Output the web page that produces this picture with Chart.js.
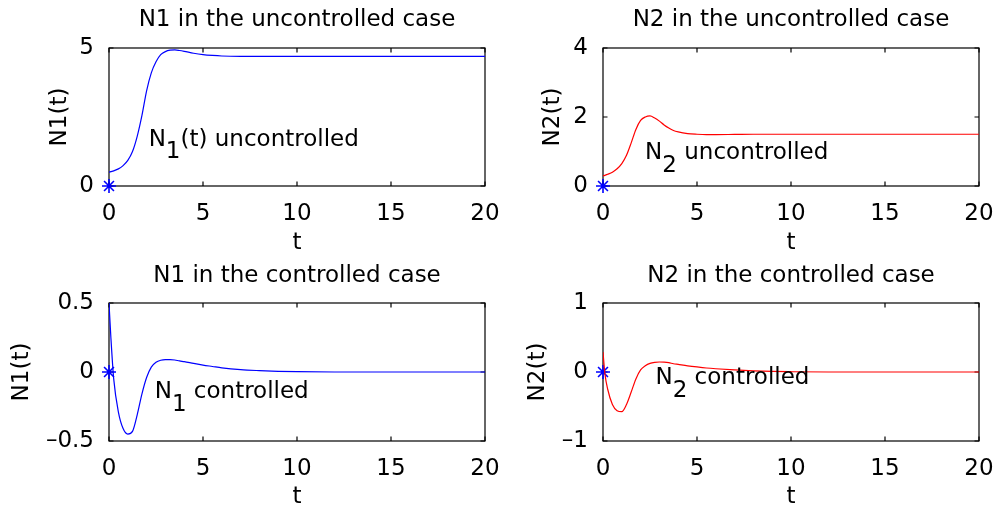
<!DOCTYPE html>
<html>
<head>
<meta charset="utf-8">
<script src="https://cdn.jsdelivr.net/npm/chart.js@4"></script>
<style>
  body { margin: 0; background: #fff; width: 996px; height: 509px; overflow: hidden; position: relative; }
  canvas { position: absolute; }
</style>
</head>
<body>
<canvas id="c1" width="520" height="255" style="left:0;top:0"></canvas>
<canvas id="c2" width="500" height="255" style="left:496px;top:0"></canvas>
<canvas id="c3" width="520" height="254" style="left:0;top:255px"></canvas>
<canvas id="c4" width="500" height="254" style="left:496px;top:255px"></canvas>
<script>
// time grid shared by all four curves
const tValues = [0, 0.1, 0.25, 0.5, 0.75, 1, 1.25, 1.5, 1.75, 2, 2.25, 2.5, 2.75, 3, 3.25, 3.5, 3.75, 4, 4.5, 5, 5.5, 6, 7, 8, 9, 10, 12, 14, 16, 18, 20];

const n1Uncontrolled = [0.5, 0.52, 0.55, 0.62, 0.74, 0.93, 1.25, 1.8, 2.55, 3.45, 4.1, 4.5, 4.76, 4.87, 4.92, 4.93, 4.91, 4.88, 4.81, 4.76, 4.73, 4.71, 4.7, 4.7, 4.7, 4.7, 4.7, 4.7, 4.7, 4.7, 4.7];
const n2Uncontrolled = [0.3, 0.31, 0.34, 0.4, 0.5, 0.65, 0.89, 1.25, 1.64, 1.9, 2.0, 2.03, 1.97, 1.88, 1.77, 1.68, 1.61, 1.57, 1.52, 1.5, 1.49, 1.49, 1.495, 1.5, 1.5, 1.5, 1.5, 1.5, 1.5, 1.5, 1.5];
const n1Controlled = [0.5, 0.25, -0.05, -0.29, -0.41, -0.45, -0.43, -0.31, -0.16, -0.04, 0.035, 0.07, 0.085, 0.09, 0.09, 0.087, 0.08, 0.075, 0.062, 0.05, 0.04, 0.03, 0.017, 0.01, 0.005, 0.002, 0, 0, 0, 0, 0];
const n2Controlled = [0.29, -0.02, -0.25, -0.47, -0.56, -0.575, -0.47, -0.29, -0.1, 0.03, 0.09, 0.125, 0.14, 0.145, 0.143, 0.135, 0.12, 0.11, 0.09, 0.073, 0.058, 0.047, 0.03, 0.017, 0.008, 0.004, 0, 0, 0, 0, 0];

// initial point marker
const startPoint = [{x: 0, y: 0}];

// ticks
const xTicks = [0, 5, 10, 15, 20];
const yTicksN1U = [0, 5];
const yTicksN2U = [0, 2, 4];
const yTicksN1C = [-0.5, 0, 0.5];
const yTicksN2C = [-1, 0, 1];

const FONT = 'DejaVu Sans';

// black frame with inward ticks on all four sides, like matlab
const boxPlugin = {
    id: 'matlabBox',
    beforeDatasetsDraw(chart) {
        const {ctx, chartArea: a, scales: {x, y}} = chart;
        const len = 4.5;
        ctx.save();
        ctx.strokeStyle = '#000';
        ctx.lineWidth = 1.2;
        ctx.strokeRect(a.left, a.top, a.right - a.left, a.bottom - a.top);
        ctx.beginPath();
        x.ticks.forEach(tk => {
            const px = x.getPixelForValue(tk.value);
            ctx.moveTo(px, a.bottom); ctx.lineTo(px, a.bottom - len);
            ctx.moveTo(px, a.top); ctx.lineTo(px, a.top + len);
        });
        y.ticks.forEach(tk => {
            const py = y.getPixelForValue(tk.value);
            ctx.moveTo(a.left, py); ctx.lineTo(a.left + len, py);
            ctx.moveTo(a.right, py); ctx.lineTo(a.right - len, py);
        });
        ctx.stroke();
        ctx.restore();
    }
};

// text label with a subscript (N_1 etc.)
const subLabelPlugin = {
    id: 'subLabel',
    afterDatasetsDraw(chart, args, opts) {
        if (!opts || !opts.main) return;
        const {ctx, scales: {x, y}} = chart;
        let px = x.getPixelForValue(opts.x);
        const py = y.getPixelForValue(opts.y);
        ctx.save();
        ctx.font = '23px "' + FONT + '"';
        ctx.fillStyle = '#000';
        ctx.textBaseline = 'alphabetic';
        ctx.fillText(opts.main, px, py);
        px += ctx.measureText(opts.main).width;
        ctx.fillText(opts.sub, px, py + opts.shift);
        px += ctx.measureText(opts.sub).width;
        ctx.fillText(opts.rest, px, py);
        ctx.restore();
    }
};

function fmtTick(v) {
    return v < 0 ? '\u2013' + String(-v) : String(v);
}

function makeChart(id, p) {
    return new Chart(document.getElementById(id), {
        type: 'line',
        data: {
            datasets: [
                {
                    data: tValues.map((t, i) => ({x: t, y: p.values[i]})),
                    borderColor: p.color,
                    borderWidth: 1.2,
                    pointRadius: 0,
                    cubicInterpolationMode: 'monotone',
                    fill: false
                },
                {
                    data: startPoint,
                    showLine: false,
                    pointStyle: 'star',
                    pointRadius: 7,
                    borderColor: '#0000ff',
                    pointBorderWidth: 1.6,
                    clip: false
                }
            ]
        },
        options: {
            responsive: false,
            animation: false,
            devicePixelRatio: 1,
            layout: { padding: { left: 0, right: p.rightPad, top: 0, bottom: 0 } },
            plugins: {
                legend: { display: false },
                tooltip: { enabled: false },
                title: {
                    display: true,
                    text: p.title,
                    fullSize: false,
                    color: '#000',
                    font: { family: FONT, size: 23, weight: 'normal', lineHeight: 1 },
                    padding: { top: p.titleTop, bottom: 25 - p.titleTop }
                },
                subLabel: p.label
            },
            scales: {
                x: {
                    type: 'linear',
                    min: 0,
                    max: 20,
                    grid: { display: false },
                    border: { display: false },
                    afterBuildTicks: s => { s.ticks = xTicks.map(v => ({value: v})); },
                    afterFit: s => { s.height = p.xHeight; s.paddingLeft = 0; s.paddingRight = 0; },
                    ticks: {
                        color: '#000',
                        padding: 9,
                        maxRotation: 0,
                        font: { family: FONT, size: 23, lineHeight: 1 },
                        callback: v => fmtTick(v)
                    },
                    title: {
                        display: true,
                        text: 't',
                        color: '#000',
                        font: { family: FONT, size: 23, lineHeight: 1 },
                        padding: { top: 0, bottom: p.xTitleBottom }
                    }
                },
                y: {
                    type: 'linear',
                    min: p.yTicks[0],
                    max: p.yTicks[p.yTicks.length - 1],
                    grid: { display: false },
                    border: { display: false },
                    afterBuildTicks: s => { s.ticks = p.yTicks.map(v => ({value: v})); },
                    afterFit: s => { s.width = p.yWidth; s.paddingTop = 0; s.paddingBottom = 0; },
                    ticks: {
                        color: '#000',
                        padding: 7,
                        font: { family: FONT, size: 23, lineHeight: 1 },
                        callback: v => fmtTick(v)
                    },
                    title: {
                        display: true,
                        text: p.yTitle,
                        color: '#000',
                        font: { family: FONT, size: 23, lineHeight: 1 },
                        padding: { top: p.yTitlePad, bottom: 0 }
                    }
                }
            }
        },
        plugins: [boxPlugin, subLabelPlugin]
    });
}

makeChart('c1', {
    values: n1Uncontrolled, color: '#0000ff', title: 'N1 in the uncontrolled case', yTitle: 'N1(t)',
    yTicks: yTicksN1U, yWidth: 109, rightPad: 35, xHeight: 69, titleTop: 8.4, yTitlePad: 48.5, xTitleBottom: 0,
    label: { x: 2.11, y: 1.45, main: 'N', sub: '1', rest: '(t) uncontrolled', shift: 12.5 }
});
makeChart('c2', {
    values: n2Uncontrolled, color: '#ff0000', title: 'N2 in the uncontrolled case', yTitle: 'N2(t)',
    yTicks: yTicksN2U, yWidth: 107, rightPad: 17, xHeight: 69, titleTop: 8.4, yTitlePad: 46, xTitleBottom: 0,
    label: { x: 2.24, y: 0.78, main: 'N', sub: '2', rest: ' uncontrolled', shift: 13.3 }
});
makeChart('c3', {
    values: n1Controlled, color: '#0000ff', title: 'N1 in the controlled case', yTitle: 'N1(t)',
    yTicks: yTicksN1C, yWidth: 109, rightPad: 35, xHeight: 68, titleTop: 9.2, yTitlePad: 11, xTitleBottom: 0,
    label: { x: 2.43, y: -0.19, main: 'N', sub: '1', rest: ' controlled', shift: 12.7 }
});
makeChart('c4', {
    values: n2Controlled, color: '#ff0000', title: 'N2 in the controlled case', yTitle: 'N2(t)',
    yTicks: yTicksN2C, yWidth: 107, rightPad: 17, xHeight: 68, titleTop: 9.2, yTitlePad: 31, xTitleBottom: 0,
    label: { x: 2.79, y: -0.176, main: 'N', sub: '2', rest: ' controlled', shift: 13.3 }
});
</script>
</body>
</html>
